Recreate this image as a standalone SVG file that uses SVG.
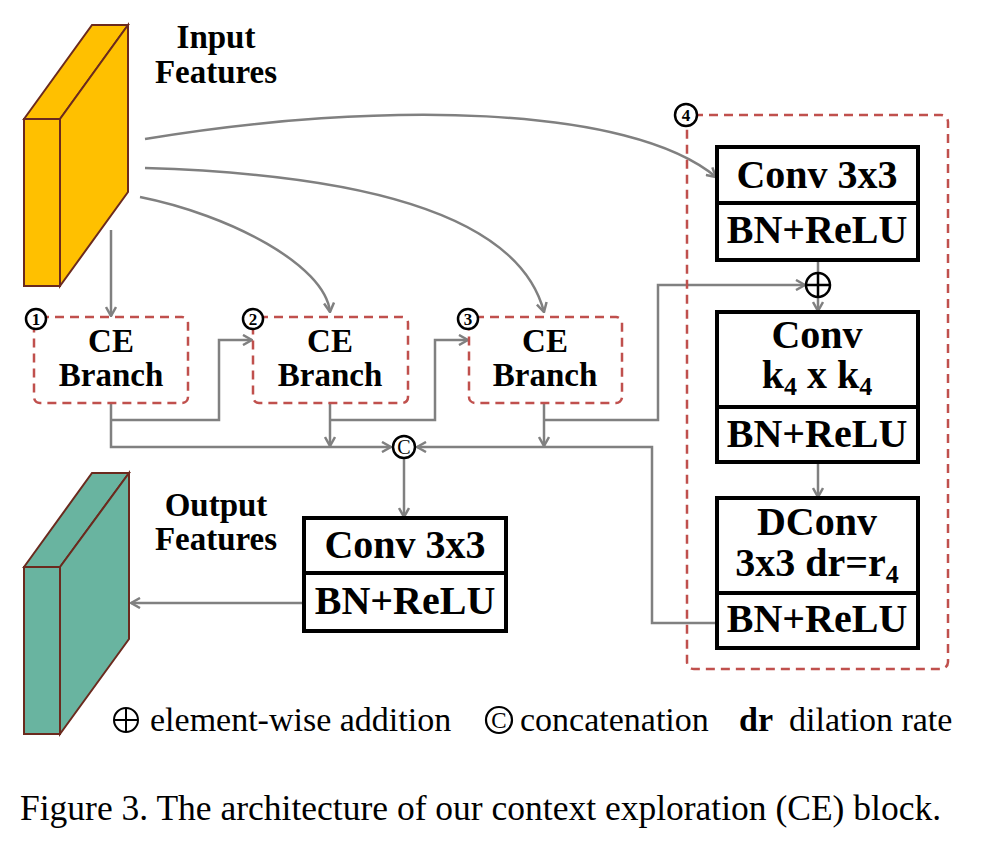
<svg xmlns="http://www.w3.org/2000/svg" width="986" height="844" viewBox="0 0 986 844">
<defs>
<style>
.t{font-family:"Liberation Serif","Times New Roman",serif;font-weight:bold;fill:#000}
.big{font-size:40px;text-anchor:middle}
.ce{font-size:33px;text-anchor:middle}
.lbl{font-size:33px;text-anchor:middle}
.num{font-size:17px;text-anchor:middle}
.n{font-family:"Liberation Serif","Times New Roman",serif;fill:#000}
.box{fill:#fff;stroke:#000;stroke-width:4}
.dash{fill:none;stroke:#C0504D;stroke-width:2.5;stroke-dasharray:9,6}
.c{fill:none;stroke:#808080;stroke-width:2.5}
.ca{fill:none;stroke:#808080;stroke-width:2.5;marker-end:url(#ah)}
.circ{fill:#fff;stroke:#000;stroke-width:2.5}
</style>
<marker id="ah" viewBox="0 0 12 12" refX="11" refY="6" markerWidth="12" markerHeight="12" markerUnits="userSpaceOnUse" orient="auto">
<path d="M2,1 L11,6 L2,11" fill="none" stroke="#808080" stroke-width="2.5"/>
</marker>
</defs>
<rect width="986" height="844" fill="#fff"/>

<g id="input-features">
<polygon points="24,119 92,25 128,25 60,119" fill="#FFC000" stroke="#6B2A1E" stroke-width="2"/>
<polygon points="60,119 128,25 128,192 60,286" fill="#FFC000" stroke="#6B2A1E" stroke-width="2"/>
<rect x="24" y="119" width="36" height="167" fill="#FFC000" stroke="#6B2A1E" stroke-width="2"/>
<text class="t lbl" x="216" y="48">Input</text>
<text class="t lbl" x="216" y="83">Features</text>
</g>

<g id="output-features">
<polygon points="24,567 92,473 129,473 60,567" fill="#69B4A0" stroke="#6B2A1E" stroke-width="2"/>
<polygon points="60,567 129,473 129,639 60,734" fill="#69B4A0" stroke="#6B2A1E" stroke-width="2"/>
<rect x="24" y="567" width="36" height="167" fill="#69B4A0" stroke="#6B2A1E" stroke-width="2"/>
<text class="t lbl" x="216" y="516">Output</text>
<text class="t lbl" x="216" y="550">Features</text>
</g>

<g id="connectors">
<path class="ca" d="M111,230 V316"/>
<path class="ca" d="M145,139 C380,100 630,105 716,177"/>
<path class="ca" d="M145,168 C380,175 520,220 544,312"/>
<path class="ca" d="M140,197 C230,215 325,265 330,312"/>
<path class="ca" d="M111,403 V447 H391"/>
<path class="ca" d="M111,420 H219 V340 H252"/>
<path class="ca" d="M330,403 V446"/>
<path class="ca" d="M330,420 H435 V340 H468"/>
<path class="ca" d="M544,403 V446"/>
<path class="ca" d="M544,420 H658 V285 H805"/>
<path class="c" d="M818,260 V273"/>
<path class="ca" d="M818,297 V311"/>
<path class="ca" d="M818,462 V497"/>
<path class="ca" d="M716,623 H652 V447 H417"/>
<path class="ca" d="M404,459 V517"/>
<path class="ca" d="M303,603 H131"/>
</g>

<g id="ce-branch-1">
<rect class="dash" x="34" y="317" width="154" height="86" rx="6"/>
<text class="t ce" x="111" y="352">CE</text>
<text class="t ce" x="111" y="386">Branch</text>
<circle class="circ" cx="36" cy="319" r="10"/>
<text class="t num" x="36" y="325">1</text>
</g>
<g id="ce-branch-2">
<rect class="dash" x="253" y="317" width="155" height="86" rx="6"/>
<text class="t ce" x="330" y="352">CE</text>
<text class="t ce" x="330" y="386">Branch</text>
<circle class="circ" cx="253" cy="319" r="10"/>
<text class="t num" x="253" y="325">2</text>
</g>
<g id="ce-branch-3">
<rect class="dash" x="469" y="317" width="153" height="86" rx="6"/>
<text class="t ce" x="545" y="352">CE</text>
<text class="t ce" x="545" y="386">Branch</text>
<circle class="circ" cx="468" cy="319" r="10"/>
<text class="t num" x="468" y="325">3</text>
</g>

<g id="ce-branch-4">
<rect class="dash" x="687" y="115" width="261" height="554" rx="7"/>
<circle class="circ" cx="686" cy="115" r="11"/>
<text class="t num" x="686" y="121">4</text>
</g>

<g id="conv3x3-a">
<rect class="box" x="717" y="147" width="201" height="113"/>
<line x1="717" y1="203" x2="918" y2="203" stroke="#000" stroke-width="4"/>
<text class="t big" x="817" y="188">Conv 3x3</text>
<text class="t big" x="817" y="243">BN+ReLU</text>
</g>

<g id="add">
<circle class="circ" cx="818" cy="285" r="12"/>
<path d="M806,285 H830 M818,273 V297" stroke="#000" stroke-width="2.5"/>
</g>

<g id="conv-k4">
<rect class="box" x="717" y="312" width="201" height="150"/>
<line x1="717" y1="407" x2="918" y2="407" stroke="#000" stroke-width="4"/>
<text class="t big" x="817" y="348">Conv</text>
<text class="t big" x="817" y="388">k<tspan font-size="26" dy="7">4</tspan><tspan dy="-7"> x k</tspan><tspan font-size="26" dy="7">4</tspan></text>
<text class="t big" x="817" y="447">BN+ReLU</text>
</g>

<g id="dconv">
<rect class="box" x="717" y="498" width="201" height="150"/>
<line x1="717" y1="593" x2="918" y2="593" stroke="#000" stroke-width="4"/>
<text class="t big" x="817" y="535">DConv</text>
<text class="t big" x="817" y="576">3x3 dr=r<tspan font-size="26" dy="7">4</tspan></text>
<text class="t big" x="817" y="632">BN+ReLU</text>
</g>

<g id="concat">
<circle class="circ" cx="404" cy="447" r="11"/>
<text class="n" x="404" y="454" font-size="20" text-anchor="middle">C</text>
</g>

<g id="conv3x3-out">
<rect class="box" x="304" y="518" width="202" height="113"/>
<line x1="304" y1="573" x2="506" y2="573" stroke="#000" stroke-width="4"/>
<text class="t big" x="405" y="558">Conv 3x3</text>
<text class="t big" x="405" y="614">BN+ReLU</text>
</g>

<g id="legend">
<circle cx="126" cy="720" r="12" fill="none" stroke="#000" stroke-width="2"/>
<path d="M114,720 H138 M126,708 V732" stroke="#000" stroke-width="2"/>
<text class="n" x="150" y="731" font-size="34">element-wise addition</text>
<circle cx="499" cy="720" r="13" fill="none" stroke="#000" stroke-width="2.2"/>
<text class="n" x="499" y="728" font-size="23" text-anchor="middle">C</text>
<text class="n" x="520" y="731" font-size="34">concatenation</text>
<text class="t" x="739" y="731" font-size="34">dr</text>
<text class="n" x="789" y="731" font-size="34">dilation rate</text>
</g>

<text class="n" x="20" y="820" font-size="35.5">Figure 3. The architecture of our context exploration (CE) block.</text>
</svg>
